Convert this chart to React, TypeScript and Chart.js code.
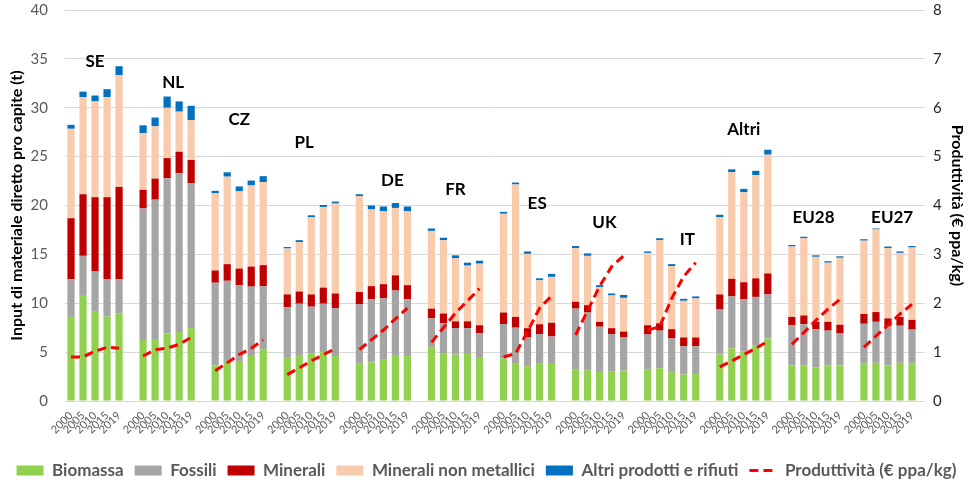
import React, { useEffect, useRef } from 'react';
import { Chart, registerables } from 'chart.js';

Chart.register(...registerables);

const FONT = 'Lato, "Open Sans", sans-serif';

const countries = ['SE', 'NL', 'CZ', 'PL', 'DE', 'FR', 'ES', 'UK', 'IT', 'Altri', 'EU28', 'EU27'];
const years = ['2000', '2005', '2010', '2015', '2019'];

// t pro capite, one row per country, columns = years
const biomassa = [
  [8.6, 10.75, 9.2, 8.65, 8.95],
  [6.25, 6.35, 6.9, 7.05, 7.45],
  [3.65, 4.0, 4.1, 4.6, 5.25],
  [4.5, 4.7, 4.9, 5.0, 4.6],
  [3.9, 3.95, 4.3, 4.7, 4.6],
  [5.45, 4.9, 4.75, 4.8, 4.5],
  [4.35, 3.8, 3.55, 3.8, 3.8],
  [3.25, 3.15, 2.95, 3.05, 3.1],
  [3.25, 3.35, 2.95, 2.7, 2.75],
  [4.75, 5.4, 5.1, 5.7, 6.4],
  [3.65, 3.65, 3.45, 3.65, 3.65],
  [3.9, 3.9, 3.65, 3.9, 3.9],
];

const fossili = [
  [3.85, 4.1, 4.1, 3.8, 3.5],
  [13.45, 14.25, 15.9, 16.25, 14.85],
  [8.45, 8.3, 7.75, 7.1, 6.5],
  [5.1, 5.25, 4.75, 4.95, 4.9],
  [6.0, 6.45, 6.2, 6.6, 5.8],
  [3.0, 3.05, 2.7, 2.65, 2.45],
  [3.5, 3.7, 3.0, 3.05, 2.8],
  [6.2, 5.9, 4.65, 3.8, 3.45],
  [3.55, 3.85, 3.45, 2.9, 2.85],
  [4.6, 5.3, 5.3, 4.95, 4.5],
  [4.1, 4.2, 3.9, 3.55, 3.25],
  [4.0, 4.2, 4.0, 3.8, 3.4],
];

const minerali = [
  [6.25, 6.3, 7.55, 8.4, 9.45],
  [1.9, 2.15, 2.05, 2.2, 2.35],
  [1.25, 1.7, 1.7, 2.05, 2.15],
  [1.3, 1.25, 1.25, 1.65, 1.5],
  [1.25, 1.35, 1.45, 1.55, 1.45],
  [1.0, 1.0, 0.7, 0.7, 0.8],
  [1.2, 1.1, 0.9, 1.0, 1.4],
  [0.7, 0.75, 0.5, 0.6, 0.55],
  [0.95, 0.75, 0.95, 0.9, 0.9],
  [1.55, 1.8, 1.75, 1.9, 2.15],
  [0.85, 0.9, 0.75, 0.9, 0.9],
  [1.0, 1.0, 0.8, 0.9, 1.0],
];

const nonMetallici = [
  [9.15, 9.95, 9.8, 10.25, 11.45],
  [5.8, 5.35, 5.15, 4.1, 4.1],
  [7.9, 8.95, 7.9, 8.3, 8.5],
  [4.7, 5.05, 7.9, 8.25, 9.2],
  [9.8, 7.85, 7.45, 6.9, 7.55],
  [7.95, 7.5, 6.45, 5.7, 6.3],
  [10.1, 13.55, 7.6, 4.5, 4.7],
  [5.5, 5.05, 3.55, 3.35, 3.45],
  [7.4, 8.5, 6.45, 3.75, 4.0],
  [7.9, 10.9, 9.2, 10.55, 12.15],
  [7.2, 7.9, 6.65, 6.05, 6.85],
  [7.5, 8.45, 7.2, 6.55, 7.4],
];

const altriProdotti = [
  [0.4, 0.55, 0.6, 0.8, 0.9],
  [0.8, 0.9, 1.15, 1.05, 1.45],
  [0.25, 0.45, 0.5, 0.5, 0.6],
  [0.15, 0.2, 0.2, 0.2, 0.2],
  [0.2, 0.4, 0.5, 0.5, 0.5],
  [0.25, 0.25, 0.3, 0.3, 0.3],
  [0.2, 0.2, 0.25, 0.2, 0.3],
  [0.2, 0.25, 0.2, 0.2, 0.3],
  [0.15, 0.2, 0.2, 0.2, 0.2],
  [0.25, 0.3, 0.35, 0.45, 0.5],
  [0.15, 0.15, 0.15, 0.15, 0.15],
  [0.15, 0.1, 0.15, 0.15, 0.15],
];

// € ppa/kg, right axis
const produttivita = [
  [0.9, 0.9, 1.02, 1.1, 1.08],
  [0.92, 1.05, 1.08, 1.16, 1.3],
  [0.62, 0.78, 0.95, 1.08, 1.25],
  [0.54, 0.68, 0.82, 0.95, 1.07],
  [1.05, 1.25, 1.45, 1.68, 1.9],
  [1.2, 1.5, 1.8, 2.05, 2.3],
  [0.9, 0.97, 1.42, 1.9, 2.15],
  [1.35, 1.85, 2.35, 2.75, 2.97],
  [1.45, 1.52, 2.1, 2.55, 2.83],
  [0.7, 0.82, 0.95, 1.08, 1.22],
  [1.16, 1.4, 1.65, 1.88, 2.08],
  [1.1, 1.33, 1.55, 1.78, 1.98],
];

// where the country names sit (left-axis units) and their shift in bar slots
const countryLabelY = [34.7, 32.55, 28.8, 26.4, 22.55, 21.6, 20.2, 18.3, 16.5, 27.75, 18.8, 18.8];
const countryLabelShift = [0, 0.5, 0, -0.6, 0.75, 0, 0.8, 0.4, 1.3, 0, -0.2, 0.35];

// groups of 5 years with an empty slot between countries
const labels: string[] = [];
countries.forEach((_, i) => {
  labels.push(...years);
  if (i < countries.length - 1) labels.push('');
});

const flatten = (rows: number[][]) => {
  const out: (number | null)[] = [];
  rows.forEach((row, i) => {
    out.push(...row);
    if (i < rows.length - 1) out.push(null);
  });
  return out;
};

const countryLabelsPlugin = {
  id: 'countryLabels',
  afterDatasetsDraw(chart: any) {
    const { ctx, scales } = chart;
    const x = scales.x;
    const y = scales.y;
    const slot = x.getPixelForValue(1) - x.getPixelForValue(0);
    ctx.save();
    ctx.font = `bold 17px ${FONT}`;
    ctx.fillStyle = '#000';
    ctx.textAlign = 'center';
    ctx.textBaseline = 'middle';
    countries.forEach((name, i) => {
      const px = x.getPixelForValue(i * 6 + 2) + countryLabelShift[i] * slot;
      ctx.fillText(name, px, y.getPixelForValue(countryLabelY[i]));
    });
    ctx.restore();
  },
};

// keep the tick padding from pushing the plot area down
const fixVertical = (width: number) => (s: any) => {
  s.width = width;
  s.paddingTop = 9;
  s.paddingBottom = 9;
};

const App: React.FC = () => {
  const canvasRef = useRef<HTMLCanvasElement | null>(null);
  const chartInstance = useRef<Chart | null>(null);

  useEffect(() => {
    document.body.style.margin = '0';
    if (!canvasRef.current) return;

    const bar = (label: string, rows: number[][], color: string) => ({
      type: 'bar' as const,
      label,
      data: flatten(rows),
      backgroundColor: color,
      borderWidth: 0,
      stack: 'dmi',
      order: 1,
      barPercentage: 0.6,
      categoryPercentage: 1,
    });

    chartInstance.current = new Chart(canvasRef.current, {
      type: 'bar',
      data: {
        labels,
        datasets: [
          bar('Biomassa', biomassa, '#92D050'),
          bar('Fossili', fossili, '#A5A5A5'),
          bar('Minerali', minerali, '#C00000'),
          bar('Minerali non metallici', nonMetallici, '#F8CBAD'),
          bar('Altri prodotti e rifiuti', altriProdotti, '#0070C0'),
          {
            type: 'line' as const,
            label: 'Produttività (€ ppa/kg)',
            data: flatten(produttivita),
            yAxisID: 'y1',
            borderColor: '#FF0000',
            backgroundColor: '#FF0000',
            borderWidth: 3,
            borderDash: [9, 5],
            pointRadius: 0,
            tension: 0,
            spanGaps: false,
            order: 0,
          } as any,
        ],
      },
      options: {
        animation: false,
        responsive: true,
        maintainAspectRatio: false,
        layout: { padding: { top: 10, bottom: 6, left: 0, right: 0 } },
        plugins: {
          tooltip: { enabled: false },
          legend: {
            position: 'bottom',
            labels: {
              font: { family: FONT, size: 17, weight: 'bold' },
              color: '#595959',
              usePointStyle: true,
              pointStyleWidth: 27,
              boxHeight: 10,
              padding: 11,
              sort: (a: any, b: any) => a.datasetIndex - b.datasetIndex,
              generateLabels: (chart: any) => {
                const items = Chart.defaults.plugins.legend.labels.generateLabels(chart);
                return items.map((item: any) => {
                  if (item.datasetIndex === 5) {
                    return { ...item, pointStyle: 'line', lineWidth: 3, lineDash: [9, 5], strokeStyle: '#FF0000' };
                  }
                  return { ...item, pointStyle: 'rect', lineWidth: 0 };
                });
              },
            },
          },
        },
        scales: {
          x: {
            stacked: true,
            grid: { display: false },
            border: { display: false },
            ticks: {
              autoSkip: false,
              maxRotation: 45,
              minRotation: 45,
              padding: 0,
              color: '#595959',
              font: { family: FONT, size: 11 },
            },
            afterFit: (s: any) => {
              s.height = 50;
            },
          },
          y: {
            stacked: true,
            min: 0,
            max: 40,
            ticks: { stepSize: 5, padding: 17, color: '#595959', font: { family: FONT, size: 15 } },
            grid: { color: '#D9D9D9', drawTicks: false },
            border: { display: false },
            title: {
              display: true,
              text: 'Input di materiale diretto pro capite (t)',
              color: '#000',
              font: { family: FONT, size: 16, weight: 'bold' },
              padding: { top: 7, bottom: 0 },
            },
            afterFit: fixVertical(65),
          },
          y1: {
            position: 'right',
            min: 0,
            max: 8,
            ticks: { stepSize: 1, padding: 8, color: '#262626', font: { family: FONT, size: 15 } },
            grid: { drawOnChartArea: false, color: '#D9D9D9', tickLength: 7 },
            border: { display: false },
            title: {
              display: true,
              text: 'Produttività (€ ppa/kg)',
              color: '#000',
              font: { family: FONT, size: 16, weight: 'bold' },
              padding: { top: 6, bottom: 0 },
            },
            afterFit: fixVertical(55),
          },
        },
      },
      plugins: [countryLabelsPlugin],
    });

    return () => {
      if (chartInstance.current) {
        chartInstance.current.destroy();
        chartInstance.current = null;
      }
    };
  }, []);

  return (
    <div style={{ width: 973, height: 495, position: 'relative' }}>
      <canvas ref={canvasRef} />
    </div>
  );
};

export default App;
